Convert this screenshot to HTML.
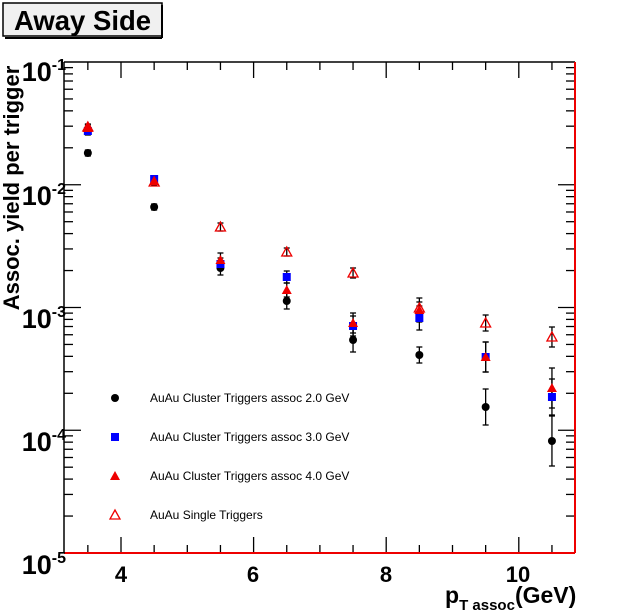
<!DOCTYPE html>
<html><head><meta charset="utf-8"><style>
body{margin:0;background:#fff;width:639px;height:615px;overflow:hidden}
svg{display:block;font-family:"Liberation Sans",Arial,sans-serif}
</style></head><body>
<svg id="s" width="639" height="615" xmlns="http://www.w3.org/2000/svg">
<rect x="0" y="0" width="639" height="615" fill="#fff"/>
<rect x="3" y="3" width="159" height="33" fill="#f0f0f0" stroke="#000" stroke-width="1.5"/>
<line x1="162" y1="5" x2="162" y2="38" stroke="#000" stroke-width="2"/>
<line x1="5" y1="38" x2="162" y2="38" stroke="#000" stroke-width="2"/>
<text x="14" y="30" font-size="27.5" font-weight="bold">Away Side</text>
<g id="ax" stroke="#000" stroke-width="1.3"></g>
<line x1="64" y1="62" x2="575" y2="62" stroke="#000" stroke-width="1.5"/>
<line x1="64" y1="62" x2="64" y2="553" stroke="#000" stroke-width="1.5"/>
<line x1="575" y1="62" x2="575" y2="553" stroke="#e00" stroke-width="2"/>
<line x1="64" y1="553" x2="575" y2="553" stroke="#e00" stroke-width="2"/>
<g font-size="22" font-weight="bold" text-anchor="middle">
<text x="121" y="582">4</text><text x="253" y="582">6</text><text x="386" y="582">8</text><text x="518" y="582">10</text>
</g>
<g font-size="27" font-weight="bold" text-anchor="end">
<text x="66" y="81">10<tspan font-size="16" dy="-11">-1</tspan></text>
<text x="66" y="205">10<tspan font-size="16" dy="-11">-2</tspan></text>
<text x="66" y="328">10<tspan font-size="16" dy="-11">-3</tspan></text>
<text x="66" y="451">10<tspan font-size="16" dy="-11">-4</tspan></text>
<text x="66" y="574">10<tspan font-size="16" dy="-11">-5</tspan></text>
</g>
<text x="445" y="603" font-size="23" font-weight="bold">p<tspan font-size="15" dy="7">T assoc</tspan><tspan dy="-7">(GeV)</tspan></text>
<text transform="translate(19,188) rotate(-90)" font-size="22" font-weight="bold" text-anchor="middle">Assoc. yield per trigger</text>
<g id="d"></g>
<g font-size="12">
<circle cx="115" cy="398" r="4"/><text x="150" y="402">AuAu Cluster Triggers assoc 2.0 GeV</text>
<rect x="111" y="433" width="8" height="8" fill="#00f"/><text x="150" y="441">AuAu Cluster Triggers assoc 3.0 GeV</text>
<polygon points="115,471 110,480 120,480" fill="#e00"/><text x="150" y="480">AuAu Cluster Triggers assoc 4.0 GeV</text>
<polygon points="115,510 110,519 120,519" fill="none" stroke="#e00" stroke-width="1.3"/><text x="150" y="519">AuAu Single Triggers</text>
</g>
</svg>
<script>
var NS="http://www.w3.org/2000/svg",ax=document.getElementById('ax'),d=document.getElementById('d');
function L(p,x1,y1,x2,y2,c,w){var l=document.createElementNS(NS,'line');l.setAttribute('x1',x1);l.setAttribute('y1',y1);l.setAttribute('x2',x2);l.setAttribute('y2',y2);l.setAttribute('stroke',c||'#000');l.setAttribute('stroke-width',w||1.3);p.appendChild(l);}
function X(v){return 121+(v-4)*66.3;}
function Y(e){return 62+(-1-e)*122.75;}
for(var v=3.5;v<=10.8;v+=0.5){var x=X(v),m=(v%2==0)?16:8;L(ax,x,553,x,553-m);L(ax,x,62,x,62+m);}
for(var e=-5;e<-1;e++){for(var k=1;k<10;k++){var y=Y(e+Math.log10(k)),m=k==1?17:9;L(ax,64,y,64+m,y);L(ax,575,y,575-m,y);}}
var pts=[[3.5,153,131,128,127],[4.5,207,179,181,182],[5.5,268,264,260,227],[6.5,301,277,290,252],[7.5,340,326,323,273],[8.5,355,318,310,308],[9.5,407,357,357,323],[10.5,441,397,388,337]];
var errs=[[3,4,3,3],[3,3,3,3],[7,6,7,4],[8,6,7,4],[12,10,10,5],[8,12,12,6],[18,15,15,8],[25,18,20,10]];
pts.forEach(function(p,i){var x=X(p[0]);
for(var s=0;s<4;s++){var y=p[s+1],e=errs[i][s];L(d,x,y-e,x,y+e,'#000',1.3);L(d,x-3,y-e,x+3,y-e);L(d,x-3,y+e,x+3,y+e);}
var c=document.createElementNS(NS,'circle');c.setAttribute('cx',x);c.setAttribute('cy',p[1]);c.setAttribute('r',4);d.appendChild(c);
var r=document.createElementNS(NS,'rect');r.setAttribute('x',x-4);r.setAttribute('y',p[2]-4);r.setAttribute('width',8);r.setAttribute('height',8);r.setAttribute('fill','#00f');d.appendChild(r);
var t=document.createElementNS(NS,'polygon');t.setAttribute('points',x+','+(p[3]-5)+' '+(x-5)+','+(p[3]+4)+' '+(x+5)+','+(p[3]+4));t.setAttribute('fill','#e00');d.appendChild(t);
var o=document.createElementNS(NS,'polygon');o.setAttribute('points',x+','+(p[4]-5)+' '+(x-5)+','+(p[4]+4)+' '+(x+5)+','+(p[4]+4));o.setAttribute('fill','none');o.setAttribute('stroke','#e00');o.setAttribute('stroke-width',1.3);d.appendChild(o);});
</script>
</body></html>
